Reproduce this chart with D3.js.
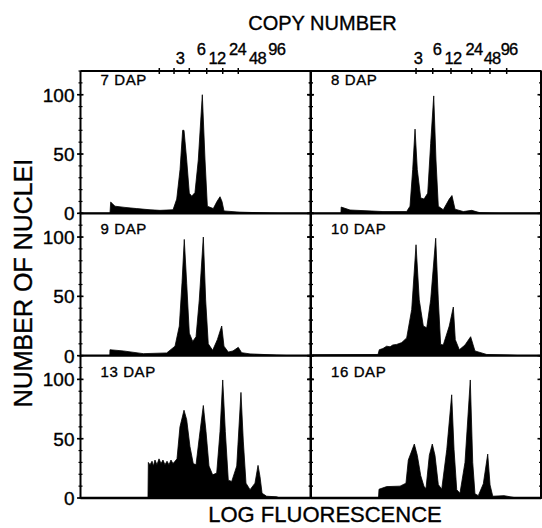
<!DOCTYPE html>
<html lang="en">
<head>
  <meta charset="UTF-8">
  <title>Nuclei DNA content histograms</title>
  <script src="https://d3js.org/d3.v7.min.js"></script>
  <style>
    html, body { margin: 0; padding: 0; background: #fff; overflow: hidden; }
    svg text { font-family: "Liberation Sans", Arial, sans-serif; fill: #000; stroke: #000; stroke-width: 0.35px; }
  </style>
</head>
<body>
  <div id="chart"></div>
  <script>
    // histogram data: [fluorescence channel (0-256), number of nuclei]
    const dap7 = [[0,0],[32.8,0],[33.6,9.5],[38.4,6],[49.5,5],[62.6,4],[77.4,3],[88.5,2.5],[103,3],
      [107.1,12],[110.8,37],[113.7,70],[115.2,70],[118.2,45],[121.1,17],[123.8,14.5],[127.4,17.5],
      [131.1,45],[135.6,100],[138.6,45],[141.2,6],[147.8,4],[151.9,10],[155.3,14],[157.5,10],
      [159.7,2],[177.5,1],[199.8,0.5],[222,0],[256,0]];
    const dap8 = [[0,0],[33.3,0],[33.6,5.3],[43.4,2.8],[80.1,1.5],[106.5,1.5],[110.2,6],[113.2,37],
      [115.8,71],[118.3,37],[122.1,13],[125.8,12],[129.9,17],[133.2,59],[136.6,99],[139.1,45],
      [141.7,6],[147.2,3],[153.9,12],[156.9,15],[160.3,3.5],[169.5,1.5],[178.9,2.5],[188.1,0.5],
      [210.4,0],[256,0]];
    const dap9 = [[0,0],[32.6,0],[32.8,5],[47.6,4],[69.9,1.7],[95.9,2.3],[105.2,8],[110,25],[113,61.5],
      [115.5,98],[118.2,61],[121.1,19],[124.9,12],[128.6,16],[132.2,47],[136.7,100],[139.3,47],
      [142.2,10],[147.1,4.5],[152.3,13.5],[157.2,25],[159.7,8],[164.5,3],[169.7,4],[175.6,7],
      [179.4,2.5],[188.7,1.5],[218.4,0.5],[233.2,0],[256,0]];
    const dap10 = [[0,0],[2,0.8],[74.6,1],[76,5],[80,6],[84.2,8],[88,7.5],[91,9],[95.4,9.5],[101,11],
      [106.5,15],[112.1,39],[116.9,93.5],[120.5,47],[125,25],[128.8,23.5],[133.2,47],[138.8,99],
      [141.7,47],[144.3,9.5],[147.2,9],[153.9,25],[158.4,41],[160.6,13.5],[165.1,5],[171.4,9],
      [177.7,16],[182.5,4],[195.6,1],[221.5,0.5],[232.6,0],[256,0]];
    const dap13 = [[0,0],[75.1,0],[75.5,30],[77.4,28],[79.6,31],[81.2,27],[82.9,32],[85.1,28],[87.4,33],
      [89.6,29],[91.8,32],[94,28],[96.3,31],[98.5,28],[100.7,32],[102.9,29],[105.2,31],[107.4,33],
      [110.7,60],[115.2,74],[118.2,66],[121.8,43.5],[125.5,29],[128.6,28],[132.2,51],[136.7,78],
      [139.7,56],[143,27],[147.1,19.5],[151.6,21],[155.3,56],[158.3,99.5],[161.2,56],[164.5,15],
      [168.3,14],[173.9,27],[178.6,89],[181.2,48],[184.2,12.5],[188.7,7],[194.2,12.5],[197.6,27.5],
      [199.8,18],[202.1,4],[207.2,1.5],[218.4,1],[222,0],[256,0]];
    const dap16 = [[0,0],[75.1,0],[75.7,7.4],[84.2,9.6],[99.1,10],[105.7,12.5],[108.3,32],[115,45.5],
      [118.3,36],[122.1,19],[125.8,9.6],[128,8],[131.7,36],[135,45.5],[138,36],[141.7,11.3],
      [145.5,7.4],[151.1,40.7],[156.6,87],[159.2,41],[162.2,7],[165.8,4],[171.4,30],[177.3,99.5],
      [180,30],[182.5,3.5],[186.2,2],[191.8,12],[196.7,37],[199.3,11],[202.3,1.5],[214.9,2],
      [225.3,0.5],[232.6,0],[256,0]];

    const panelNames = ["7 DAP", "8 DAP", "9 DAP", "10 DAP", "13 DAP", "16 DAP"];
    const panelData = [dap7, dap8, dap9, dap10, dap13, dap16];

    // copy number axis (top), in channels, per column
    const copyNumbers = [3, 6, 12, 24, 48, 96];
    const copyTickChLeft = [87.7, 104.1, 121.1, 140.5, 158.3, 175.6];
    const copyTickChRight = [116.9, 135.5, 155.8, 178.9, 199.2, 217.8];
    const copyLabelChLeft = [110.7, 134.1, 151.9, 174.7, 197, 218.4];
    const copyLabelChRight = [119.1, 140.2, 158, 181.4, 201.5, 220.4];

    const yMajor = [0, 50, 100];
    const yMinor = d3.range(0, 121, 10);

    const W = 542, H = 528;
    const colX = [80.5, 311], panelW = 230;
    const plotTop = 71, plotBottom = 498, rowH = (plotBottom - plotTop) / 3;

    const svg = d3.select('#chart').append('svg')
      .attr('width', W).attr('height', H);

    const xs = colX.map(x0 => d3.scaleLinear().domain([0, 256]).range([x0, x0 + panelW]));
    const ys = [0, 1, 2].map(r => d3.scaleLinear().domain([0, 120])
      .range([plotTop + (r + 1) * rowH, plotTop + r * rowH]));

    panelData.forEach((data, i) => {
      const c = i % 2, r = Math.floor(i / 2);
      const x = xs[c], y = ys[r];
      const g = svg.append('g');

      const clipId = 'clip' + i;
      g.append('clipPath').attr('id', clipId).append('rect')
        .attr('x', x.range()[0]).attr('y', y.range()[1])
        .attr('width', panelW).attr('height', rowH);

      const area = d3.area()
        .x(d => x(d[0]))
        .y0(y(0))
        .y1(d => y(d[1]));

      g.append('path')
        .datum(data)
        .attr('clip-path', 'url(#' + clipId + ')')
        .attr('d', area)
        .attr('fill', '#000')
        .attr('stroke', '#000')
        .attr('stroke-width', 0.8)
        .attr('stroke-linejoin', 'round');

      // baseline
      g.append('line')
        .attr('x1', x.range()[0]).attr('x2', x.range()[1])
        .attr('y1', y(0)).attr('y2', y(0))
        .attr('stroke', '#000').attr('stroke-width', 2.4);

      // vertical edges with ticks
      [x.range()[0], x.range()[1]].forEach(ex => {
        g.append('line')
          .attr('x1', ex).attr('x2', ex)
          .attr('y1', y.range()[1]).attr('y2', y(0))
          .attr('stroke', '#000').attr('stroke-width', 2);
        g.selectAll(null).data(yMinor).enter().append('line')
          .attr('x1', ex - 2).attr('x2', ex + 2)
          .attr('y1', d => y(d)).attr('y2', d => y(d))
          .attr('stroke', '#000').attr('stroke-width', 1.2);
        g.selectAll(null).data(yMajor).enter().append('line')
          .attr('x1', ex - 3.5).attr('x2', ex + 3)
          .attr('y1', d => y(d)).attr('y2', d => y(d))
          .attr('stroke', '#000').attr('stroke-width', 1.6);
      });

      if (c === 0) {
        g.selectAll(null).data(yMajor).enter().append('text')
          .attr('x', x.range()[0] - 6)
          .attr('y', d => y(d))
          .attr('dy', '0.36em')
          .attr('text-anchor', 'end')
          .attr('font-size', 19)
          .text(d => d);
      }

      g.append('text')
        .attr('x', x.range()[0] + 20)
        .attr('y', y.range()[1] + (r === 0 ? 13.5 : 21))
        .attr('font-size', 15)
        .attr('letter-spacing', 0.6)
        .text(panelNames[i]);
    });

    // top border
    svg.append('line')
      .attr('x1', colX[0]).attr('x2', colX[1] + panelW)
      .attr('y1', plotTop).attr('y2', plotTop)
      .attr('stroke', '#000').attr('stroke-width', 2);

    // copy number ticks & labels
    [[copyTickChLeft, copyLabelChLeft], [copyTickChRight, copyLabelChRight]].forEach(([ticks, labels], c) => {
      const x = xs[c];
      svg.selectAll(null).data(ticks).enter().append('line')
        .attr('x1', d => x(d)).attr('x2', d => x(d))
        .attr('y1', plotTop - 3).attr('y2', plotTop + 3)
        .attr('stroke', '#000').attr('stroke-width', 1.5);
      svg.selectAll(null).data(labels).enter().append('text')
        .attr('x', d => x(d))
        .attr('y', (d, j) => j % 2 === 0 ? plotTop - 7 : plotTop - 16)
        .attr('text-anchor', 'middle')
        .attr('font-size', 16.5)
        .attr('letter-spacing', -0.8)
        .text((d, j) => copyNumbers[j]);
    });

    svg.append('text')
      .attr('x', 322.5).attr('y', 29.5)
      .attr('text-anchor', 'middle')
      .attr('font-size', 20)
      .text('COPY NUMBER');

    svg.append('text')
      .attr('x', 325).attr('y', 522)
      .attr('text-anchor', 'middle')
      .attr('font-size', 22)
      .text('LOG FLUORESCENCE');

    svg.append('text')
      .attr('transform', 'translate(31.5,283) rotate(-90)')
      .attr('text-anchor', 'middle')
      .attr('font-size', 25)
      .text('NUMBER OF NUCLEI');
  </script>
</body>
</html>
